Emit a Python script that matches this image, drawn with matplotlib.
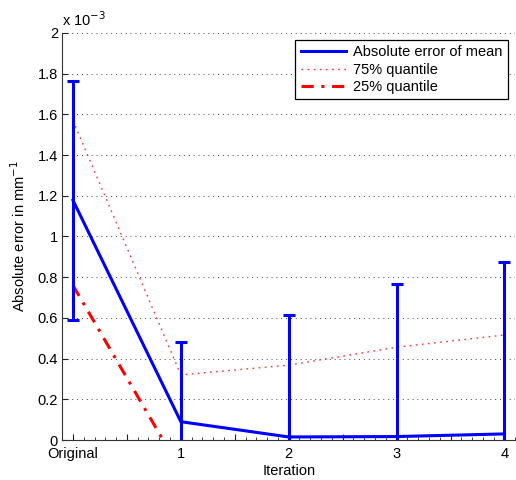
import matplotlib
matplotlib.use("Agg")
import matplotlib.pyplot as plt
from matplotlib.lines import Line2D
from matplotlib.ticker import FixedLocator, FuncFormatter, MultipleLocator

plt.rcParams['font.family'] = ['Liberation Sans', 'DejaVu Sans']

# data (values in mm^-1)
iterations = [0, 1, 2, 3, 4]
tick_labels = ['Original', '1', '2', '3', '4']
mean_err = [1.178e-3, 0.090e-3, 0.015e-3, 0.017e-3, 0.030e-3]
std_err = [0.588e-3, 0.393e-3, 0.600e-3, 0.750e-3, 0.846e-3]
q75 = [1.57e-3, 0.32e-3, 0.368e-3, 0.456e-3, 0.516e-3]
q25 = [0.76e-3, -0.15e-3, -0.20e-3, -0.20e-3, -0.20e-3]

fig = plt.figure(figsize=(5.16, 4.8), dpi=100)
ax = fig.add_axes([0.1205, 0.0833, 0.878, 0.848])

blue = '#0000ff'
q75_style = dict(color='#ff3030', lw=1.0, ls=(0, (1.2, 3.2)))
q25_style = dict(color='#ff0000', lw=2.2, ls=(0, (4, 2.5, 1, 2.5)))

ax.errorbar(iterations, mean_err, yerr=std_err, color=blue, lw=2.2,
            elinewidth=2.2, capsize=4, capthick=2.2, zorder=3)
ax.plot(iterations, q75, zorder=2, **q75_style)
ax.plot(iterations, q25, zorder=2, **q25_style)

ax.set_xlim(-0.1, 4.1)
ax.set_ylim(0, 2e-3)

ax.xaxis.set_major_locator(FixedLocator([0, 0.5, 1, 1.5, 2, 2.5, 3, 3.5, 4]))
ax.xaxis.set_major_formatter(FuncFormatter(
    lambda v, p: tick_labels[int(round(v))] if abs(v - round(v)) < 1e-6 else ''))
ax.xaxis.set_minor_locator(MultipleLocator(0.1))
ax.yaxis.set_major_locator(MultipleLocator(0.2e-3))
ax.yaxis.set_major_formatter(FuncFormatter(lambda v, p: f'{v * 1e3:g}'))

ax.tick_params(which='both', direction='in', labelsize=10.5, colors='#222222')
ax.tick_params(which='major', length=4, width=0.8)
ax.tick_params(which='minor', length=2, width=0.6)
ax.tick_params(axis='x', labelcolor='black', pad=5)
ax.tick_params(axis='y', labelcolor='black', pad=3)

for s in ['top', 'right']:
    ax.spines[s].set_visible(False)
for s in ['left', 'bottom']:
    ax.spines[s].set_color('#333333')
    ax.spines[s].set_linewidth(0.8)

ax.grid(axis='y', color='#444444', ls=(0, (1, 4)), lw=0.7)
ax.set_axisbelow(True)

ax.text(0.0, 1.01, r'x 10$^{-3}$', transform=ax.transAxes, fontsize=10.5,
        ha='left', va='bottom')
ax.set_xlabel('Iteration', fontsize=10.5, labelpad=2)
ax.set_ylabel(r'Absolute error in mm$^{-1}$', fontsize=10.5, labelpad=7)

handles = [Line2D([], [], color=blue, lw=2.2),
           Line2D([], [], **q75_style),
           Line2D([], [], **q25_style)]
labels = ['Absolute error of mean', '75% quantile', '25% quantile']
leg = ax.legend(handles, labels, loc='upper right',
                bbox_to_anchor=(0.983, 0.982), fontsize=10.5,
                fancybox=False, framealpha=1, edgecolor='black',
                handlelength=3.1, borderpad=0.35, labelspacing=0.22,
                handletextpad=0.5, borderaxespad=0)
leg.get_frame().set_linewidth(0.9)

fig.savefig('out.png', dpi=100)
